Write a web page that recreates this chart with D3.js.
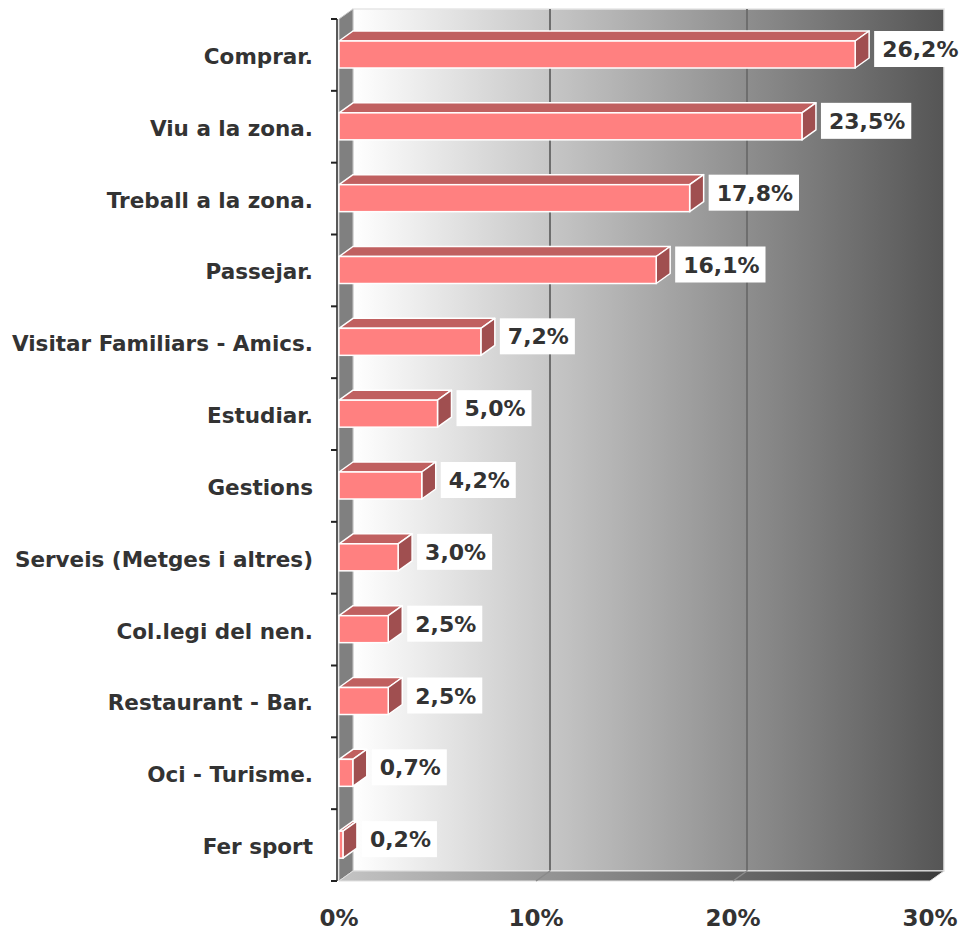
<!DOCTYPE html>
<html>
<head>
<meta charset="utf-8">
<script src="https://cdnjs.cloudflare.com/ajax/libs/d3/7.8.5/d3.min.js"></script>
<style>
  body { margin: 0; background: #fff; }
</style>
</head>
<body>
<div class="d3Graph"></div>
<script>
var categories = ["Comprar.", "Viu a la zona.", "Treball a la zona.", "Passejar.",
                  "Visitar Familiars - Amics.", "Estudiar.", "Gestions",
                  "Serveis (Metges i altres)", "Col.legi del nen.", "Restaurant - Bar.",
                  "Oci - Turisme.", "Fer sport"];
var values = [26.2, 23.5, 17.8, 16.1, 7.2, 5.0, 4.2, 3.0, 2.5, 2.5, 0.7, 0.2];
var tickValues = [0, 10, 20, 30];

var width = 963, height = 933;
var dx = 14, dy = -10;   // 3d depth offset

var svg = d3.select(".d3Graph")
    .append("svg")
    .attr("width", width)
    .attr("height", height)
    .style("font-family", "'DejaVu Sans', Verdana, sans-serif");

var x = d3.scaleLinear().domain([0, 30]).range([339, 930]);
var y = d3.scaleBand().domain(categories).range([19, 881]);

var x0 = x(0), x1 = x(30), yTop = y.range()[0], yBot = y.range()[1];

var defs = svg.append("defs");
var wallGrad = defs.append("linearGradient")
    .attr("id", "wallGrad")
    .attr("gradientUnits", "userSpaceOnUse")
    .attr("x1", x0 + dx).attr("x2", x1 + dx).attr("y1", 0).attr("y2", 0);
wallGrad.append("stop").attr("offset", "0%").attr("stop-color", "#ffffff");
wallGrad.append("stop").attr("offset", "100%").attr("stop-color", "#555555");

var floorGrad = defs.append("linearGradient")
    .attr("id", "floorGrad")
    .attr("gradientUnits", "userSpaceOnUse")
    .attr("x1", x0).attr("x2", x1 + dx).attr("y1", 0).attr("y2", 0);
floorGrad.append("stop").attr("offset", "0%").attr("stop-color", "#c4c4c4");
floorGrad.append("stop").attr("offset", "100%").attr("stop-color", "#3a3a3a");

function pts(arr) {
    return arr.map(function(p) { return p[0] + "," + p[1]; }).join(" ");
}

// back wall
svg.append("rect")
    .attr("x", x0 + dx)
    .attr("y", yTop + dy)
    .attr("width", x1 - x0)
    .attr("height", yBot - yTop)
    .attr("fill", "url(#wallGrad)")
    .attr("stroke", "#e6e6e6")
    .attr("stroke-width", 1.5);

// gridlines on back wall + floor
tickValues.slice(1, -1).forEach(function(t) {
    svg.append("line")
        .attr("x1", x(t) + dx).attr("x2", x(t) + dx)
        .attr("y1", yTop + dy).attr("y2", yBot + dy)
        .attr("stroke", "#6e6e6e")
        .attr("stroke-width", 2);
});

// left wall
svg.append("polygon")
    .attr("points", pts([[x0, yTop], [x0 + dx, yTop + dy], [x0 + dx, yBot + dy], [x0, yBot]]))
    .attr("fill", "#808080")
    .attr("stroke", "#c8c8c8")
    .attr("stroke-width", 1);

// floor
svg.append("polygon")
    .attr("points", pts([[x0, yBot], [x0 + dx, yBot + dy], [x1 + dx, yBot + dy], [x1, yBot]]))
    .attr("fill", "url(#floorGrad)")
    .attr("stroke", "#e0e0e0")
    .attr("stroke-width", 1);

tickValues.slice(1, -1).forEach(function(t) {
    svg.append("line")
        .attr("x1", x(t) + dx).attr("x2", x(t))
        .attr("y1", yBot + dy).attr("y2", yBot)
        .attr("stroke", "#8a8a8a")
        .attr("stroke-width", 1.5);
});

// axis line and ticks
svg.append("line")
    .attr("x1", x0 - 2).attr("x2", x0 - 2)
    .attr("y1", yTop).attr("y2", yBot)
    .attr("stroke", "#222")
    .attr("stroke-width", 1.5);

var edges = categories.map(function(c) { return y(c); }).concat([yBot]);
svg.selectAll(".ytick")
    .data(edges)
    .enter()
    .append("line")
    .attr("class", "ytick")
    .attr("x1", x0 - 8).attr("x2", x0 - 2)
    .attr("y1", function(d) { return d; })
    .attr("y2", function(d) { return d; })
    .attr("stroke", "#222")
    .attr("stroke-width", 2);

// bars
var barTop = 22, barH = 27;
var fmt = d3.format(".1f");

var bar = svg.selectAll(".bar")
    .data(values)
    .enter()
    .append("g")
    .attr("class", "bar");

bar.append("polygon")   // top face
    .attr("points", function(d, i) {
        var yy = y(categories[i]) + barTop;
        return pts([[x0, yy], [x0 + dx, yy + dy], [x(d) + dx, yy + dy], [x(d), yy]]);
    })
    .attr("fill", "#c06060")
    .attr("stroke", "#fff")
    .attr("stroke-width", 1.5)
    .attr("stroke-linejoin", "round");

bar.append("polygon")   // side face
    .attr("points", function(d, i) {
        var yy = y(categories[i]) + barTop;
        return pts([[x(d), yy], [x(d) + dx, yy + dy], [x(d) + dx, yy + dy + barH], [x(d), yy + barH]]);
    })
    .attr("fill", "#a04f50")
    .attr("stroke", "#fff")
    .attr("stroke-width", 1.5)
    .attr("stroke-linejoin", "round");

bar.append("rect")      // front face
    .attr("x", x0)
    .attr("y", function(d, i) { return y(categories[i]) + barTop; })
    .attr("width", function(d) { return x(d) - x0; })
    .attr("height", barH)
    .attr("fill", "#ff8080")
    .attr("stroke", "#fff")
    .attr("stroke-width", 1.5);

// value labels
bar.each(function(d, i) {
    var g = d3.select(this);
    var cy = y(categories[i]) + 30;
    var bx = x(d) + dx + 5;
    var txt = g.append("text")
        .attr("x", bx + 8)
        .attr("y", cy + 8)
        .attr("font-size", 22)
        .attr("font-weight", "bold")
        .attr("fill", "#333")
        .text(fmt(d).replace(".", ",") + "%");
    var w = txt.node().getComputedTextLength();
    g.insert("rect", "text")
        .attr("x", bx)
        .attr("y", cy - 18)
        .attr("width", w + 14)
        .attr("height", 36)
        .attr("fill", "#fff");
});

// category labels
svg.selectAll(".cat")
    .data(categories)
    .enter()
    .append("text")
    .attr("class", "cat")
    .attr("x", 313)
    .attr("y", function(d) { return y(d) + y.bandwidth() / 2 + 9; })
    .attr("text-anchor", "end")
    .attr("font-size", 21.5)
    .attr("font-weight", "bold")
    .attr("fill", "#333")
    .text(function(d) { return d; });

// x tick labels
svg.selectAll(".xlab")
    .data(tickValues)
    .enter()
    .append("text")
    .attr("class", "xlab")
    .attr("x", function(d) { return x(d); })
    .attr("y", 926)
    .attr("text-anchor", "middle")
    .attr("font-size", 23)
    .attr("font-weight", "bold")
    .attr("fill", "#333")
    .text(function(d) { return d + "%"; });
</script>
</body>
</html>
